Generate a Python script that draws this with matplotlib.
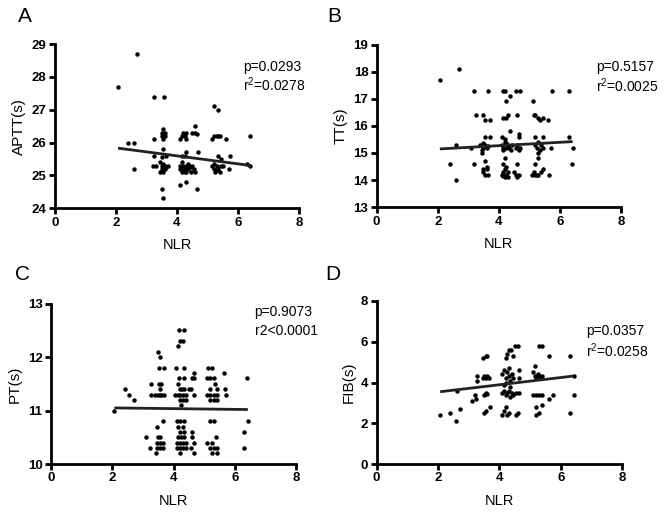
import matplotlib
matplotlib.use("Agg")
import matplotlib.pyplot as plt

plt.rcParams['font.family'] = ['Liberation Sans', 'DejaVu Sans']
plt.rcParams['mathtext.fontset'] = 'custom'
plt.rcParams['mathtext.rm'] = 'Liberation Sans'
plt.rcParams['mathtext.it'] = 'Liberation Sans'

# panel A: APTT vs NLR
a_nlr = [2.07, 2.7, 3.25, 3.57, 5.2, 5.35, 4.6,
         2.4, 2.6, 2.6, 3.25,
         3.5, 3.55, 3.6, 3.5, 3.6, 3.55,
         4.1, 4.15, 4.2, 4.25, 4.3, 4.3,
         4.5, 4.6, 4.65,
         5.15, 5.2, 5.3, 5.35, 5.4, 5.6, 6.4,
         3.25, 3.55, 3.65, 4.15, 4.3, 4.25, 4.7, 5.35, 5.45, 5.75, 3.5,
         3.2, 3.3, 3.45, 3.5, 3.55, 3.6, 3.5, 3.55, 3.6, 3.45, 3.65, 3.7,
         4.1, 4.15, 4.2, 4.25, 4.3, 4.15, 4.2, 4.3, 4.35, 4.4, 4.45, 4.5,
         4.55, 4.6, 4.1, 4.25, 4.35, 4.45,
         5.15, 5.2, 5.25, 5.3, 5.35, 5.4, 5.2, 5.3, 5.45, 5.5,
         5.7, 6.3, 6.4,
         3.5, 3.55, 4.1, 4.3, 4.65]
a_aptt = [27.7, 28.7, 27.4, 27.4, 27.1, 27.0, 26.5,
          26.0, 26.0, 25.2, 26.1,
          26.3, 26.4, 26.3, 26.2, 26.2, 26.1,
          26.1, 26.2, 26.3, 26.2, 26.3, 26.1,
          26.3, 26.3, 26.25,
          26.1, 26.2, 26.2, 26.2, 26.2, 26.1, 26.2,
          25.6, 25.8, 25.6, 25.6, 25.7, 25.6, 25.7, 25.6, 25.5, 25.6, 25.55,
          25.3, 25.3, 25.4, 25.3, 25.35, 25.3, 25.2, 25.1, 25.2, 25.1, 25.25, 25.3,
          25.3, 25.4, 25.3, 25.2, 25.3, 25.1, 25.2, 25.1, 25.2, 25.3, 25.1, 25.3,
          25.2, 25.1, 25.2, 25.1, 25.35, 25.25,
          25.3, 25.2, 25.1, 25.3, 25.2, 25.1, 25.35, 25.15, 25.3, 25.3,
          25.2, 25.35, 25.3,
          24.6, 24.3, 24.7, 24.8, 24.6]

# panel B: TT vs NLR
b_nlr = [2.07, 2.7,
         3.2, 3.65, 4.15, 4.22, 4.55, 4.7, 5.75, 6.3,
         4.37, 4.25, 5.13,
         3.25, 3.5, 4.15, 4.25, 4.3, 4.6, 5.15, 5.2, 5.3, 5.45,
         3.55, 3.7, 5.35, 5.6,
         4.37, 4.65,
         3.55, 3.7, 4.12, 4.2, 4.65, 5.2, 5.45, 6.3,
         2.6, 3.1, 3.4, 3.45, 3.5, 3.55, 3.6, 3.45, 3.65, 3.5,
         4.1, 4.15, 4.2, 4.25, 4.3, 4.35, 4.4, 4.15, 4.25, 4.45,
         4.55, 4.6, 4.65, 4.7,
         5.2, 5.25, 5.3, 5.35, 5.4, 5.45, 5.3,
         5.7, 6.43,
         2.4, 3.2, 3.55, 3.6, 4.15, 4.2, 4.25, 4.6, 5.2, 5.3, 6.4,
         3.5, 3.55, 3.6, 3.65, 3.5,
         4.1, 4.15, 4.2, 4.25, 4.3, 4.2, 4.15, 4.3,
         4.5, 4.55, 4.6, 4.65,
         5.1, 5.15, 5.2, 5.25, 5.3, 5.4, 5.45,
         5.65, 2.6]
b_tt = [17.7, 18.1,
        17.3, 17.3, 17.3, 17.3, 17.3, 17.3, 17.3, 17.3,
        17.1, 16.9, 16.9,
        16.4, 16.4, 16.3, 16.3, 16.4, 16.4, 16.4, 16.4, 16.3, 16.3,
        16.2, 16.2, 16.2, 16.2,
        15.8, 15.7,
        15.6, 15.6, 15.6, 15.5, 15.6, 15.6, 15.6, 15.6,
        15.3, 15.2, 15.3, 15.1, 15.2, 15.3, 15.2, 15.0, 15.25, 15.35,
        15.3, 15.2, 15.4, 15.2, 15.3, 15.2, 15.1, 15.1, 15.35, 15.3,
        15.2, 15.3, 15.1, 15.2,
        15.3, 15.2, 15.4, 15.1, 15.3, 15.2, 15.0,
        15.2, 15.2,
        14.6, 14.6, 14.7, 14.5, 14.6, 14.8, 14.5, 14.6, 14.6, 14.8, 14.6,
        14.3, 14.2, 14.4, 14.2, 14.4,
        14.2, 14.3, 14.1, 14.2, 14.3, 14.4, 14.15, 14.1,
        14.3, 14.2, 14.1, 14.2,
        14.2, 14.3, 14.2, 14.2, 14.2, 14.3, 14.4,
        14.2, 14.0]

# panel C: PT vs NLR
c_nlr = [4.18, 4.33, 4.2, 4.3, 4.13, 3.5, 3.55,
         3.54, 3.69, 4.09, 4.33, 5.11, 5.25,
         4.65, 5.63,
         4.19, 4.33, 4.6, 4.68, 5.09, 5.2, 5.32, 6.4,
         3.26, 3.51, 3.6, 4.13, 5.36,
         2.42, 3.55, 4.2, 4.27, 4.35, 4.5, 4.58, 5.17, 5.41, 5.68,
         2.55, 3.25, 3.4, 3.5, 3.55, 3.6, 3.7, 4.05, 4.15, 4.2, 4.3, 4.4,
         4.68, 5.1, 5.2, 5.3, 5.4, 5.7,
         2.7, 4.2, 4.3, 4.4, 5.2, 5.3, 5.4,
         4.25, 2.07,
         3.67, 4.1, 4.2, 4.33, 5.2, 5.3, 6.42,
         3.46, 4.15, 4.3,
         4.2, 4.33, 4.6, 6.3,
         3.1, 3.5, 3.55, 4.15, 4.25, 4.35, 4.6, 5.38,
         3.45, 3.55, 3.67, 4.1, 4.2, 4.3, 4.4, 4.67, 5.1, 5.25,
         3.24, 3.45, 3.55, 3.67, 4.1, 4.2, 4.3, 4.4, 4.58, 5.2, 5.3, 5.4, 6.3,
         3.44, 4.2, 4.68, 5.25, 5.4]
c_pt = [12.5, 12.5, 12.3, 12.3, 12.2, 12.1, 12.0,
        11.8, 11.8, 11.8, 11.8, 11.8, 11.8,
        11.7, 11.7,
        11.6, 11.6, 11.6, 11.6, 11.6, 11.6, 11.6, 11.6,
        11.5, 11.5, 11.5, 11.5, 11.5,
        11.4, 11.4, 11.4, 11.4, 11.4, 11.4, 11.4, 11.4, 11.4, 11.4,
        11.3, 11.3, 11.3, 11.3, 11.3, 11.3, 11.3, 11.3, 11.3, 11.3, 11.3, 11.3,
        11.3, 11.3, 11.3, 11.3, 11.3, 11.3,
        11.2, 11.2, 11.2, 11.2, 11.2, 11.2, 11.2,
        11.1, 11.0,
        10.8, 10.8, 10.8, 10.8, 10.8, 10.8, 10.8,
        10.7, 10.7, 10.7,
        10.6, 10.6, 10.6, 10.6,
        10.5, 10.5, 10.5, 10.5, 10.5, 10.5, 10.5, 10.5,
        10.4, 10.4, 10.4, 10.4, 10.4, 10.4, 10.4, 10.4, 10.4, 10.4,
        10.3, 10.3, 10.3, 10.3, 10.3, 10.3, 10.3, 10.3, 10.3, 10.3, 10.3, 10.3, 10.3,
        10.2, 10.2, 10.2, 10.2, 10.2]

# panel D: FIB vs NLR
d_nlr = [2.07, 2.4, 2.58, 2.72, 2.61,
         3.1, 3.2, 3.25, 3.26, 3.26,
         3.45, 3.55, 3.6, 3.45, 3.5, 3.55, 3.6, 3.65, 3.5, 3.55, 3.6,
         3.5, 3.55, 3.7,
         4.2, 4.25, 4.3, 4.38, 4.45, 4.5, 4.6,
         4.1, 4.15, 4.2, 4.25, 4.3, 4.35, 4.4, 4.45, 4.2, 4.3, 4.15, 4.35,
         4.1, 4.15, 4.2, 4.25, 4.3, 4.35, 4.4, 4.45, 4.55,
         4.1, 4.15, 4.2, 4.3, 4.25,
         4.55, 4.6, 4.65, 4.65, 4.65,
         5.16, 5.1, 5.15, 5.2, 5.25, 5.3, 5.35, 5.4,
         5.1, 5.2, 5.3, 5.4,
         5.2, 5.2, 5.3, 5.4,
         5.3, 5.4, 5.6, 5.6, 5.75,
         6.3, 6.3, 6.42, 6.42]
d_fib = [2.4, 2.5, 2.1, 2.7, 3.6,
         3.1, 3.4, 3.2, 4.3, 4.1,
         5.2, 5.3, 5.3, 4.2, 4.3, 4.2, 4.3, 4.2, 3.4, 3.5, 3.45,
         2.5, 2.6, 2.8,
         5.2, 5.4, 5.6, 5.6, 5.3, 5.8, 5.8,
         4.4, 4.6, 4.2, 4.5, 4.3, 4.1, 4.4, 4.2, 4.0, 4.7, 3.9, 3.8,
         3.5, 3.6, 3.4, 3.5, 3.6, 3.3, 3.5, 3.4, 3.5,
         2.4, 2.6, 2.8, 2.5, 2.4,
         2.4, 2.5, 4.2, 4.6, 3.5,
         4.8, 4.5, 4.3, 4.2, 4.4, 4.3, 4.2, 4.3,
         3.4, 3.4, 3.4, 3.4,
         2.8, 2.4, 2.5, 2.9,
         5.8, 5.8, 5.3, 3.2, 3.4,
         5.3, 2.5, 3.4, 4.3]

# fitted regression lines (start/end of each line)
fit_x = [2.07, 6.42]
fit_a = [25.83, 25.30]
fit_b = [15.15, 15.42]
fit_c = [11.05, 11.02]
fit_d = [3.55, 4.32]

panels = [
    dict(letter='A', x=a_nlr, y=a_aptt, fit=fit_a, ylabel='APTT(s)', ylim=(24, 29), yticks=[24, 25, 26, 27, 28, 29],
         pos=[0.082, 0.598, 0.365, 0.317], stats=['p=0.0293', 'r$^{2}$=0.0278'], tx=0.77, ty=(0.86, 0.75),
         lpos=(18, 17)),
    dict(letter='B', x=b_nlr, y=b_tt, fit=fit_b, ylabel='TT(s)', ylim=(13, 19), yticks=[13, 14, 15, 16, 17, 18, 19],
         pos=[0.563, 0.600, 0.365, 0.314], stats=['p=0.5157', 'r$^{2}$=0.0025'], tx=0.90, ty=(0.864, 0.75),
         lpos=(327, 17)),
    dict(letter='C', x=c_nlr, y=c_pt, fit=fit_c, ylabel='PT(s)', ylim=(10, 13), yticks=[10, 11, 12, 13],
         pos=[0.076, 0.104, 0.367, 0.310], stats=['p=0.9073', 'r2<0.0001'], tx=0.83, ty=(0.948, 0.828),
         lpos=(15, 275)),
    dict(letter='D', x=d_nlr, y=d_fib, fit=fit_d, ylabel='FIB(s)', ylim=(0, 8), yticks=[0, 2, 4, 6, 8],
         pos=[0.563, 0.104, 0.367, 0.315], stats=['p=0.0357', 'r$^{2}$=0.0258'], tx=0.852, ty=(0.816, 0.695),
         lpos=(325, 275)),
]

fig = plt.figure(figsize=(6.69, 5.18), dpi=100)

for p in panels:
    ax = fig.add_axes(p['pos'])
    ax.plot(p['x'], p['y'], 'o', color='black', ms=3.2, mew=0, clip_on=False)
    ax.plot(fit_x, p['fit'], color='#222222', lw=2.0, solid_capstyle='butt')
    ax.set_xlim(0, 8)
    ax.set_ylim(*p['ylim'])
    ax.set_xticks([0, 2, 4, 6, 8])
    ax.set_yticks(p['yticks'])
    for side in ['top', 'right']:
        ax.spines[side].set_visible(False)
    for side in ['left', 'bottom']:
        ax.spines[side].set_linewidth(2.0)
    ax.tick_params(width=2.0, length=4, labelsize=9.5, pad=2)
    for lab in ax.get_xticklabels() + ax.get_yticklabels():
        lab.set_fontweight('bold')
    ax.set_xlabel('NLR', fontsize=10.5, labelpad=7)
    ax.set_ylabel(p['ylabel'], fontsize=11, labelpad=4)
    ax.text(p['tx'], p['ty'][0], p['stats'][0], transform=ax.transAxes, fontsize=10, va='center', ha='left')
    ax.text(p['tx'], p['ty'][1], p['stats'][1], transform=ax.transAxes, fontsize=10, va='center', ha='left')
    fig.text(p['lpos'][0] / 669, 1 - p['lpos'][1] / 518, p['letter'], fontsize=15, va='center', ha='left')

fig.savefig('out.png', dpi=100)
